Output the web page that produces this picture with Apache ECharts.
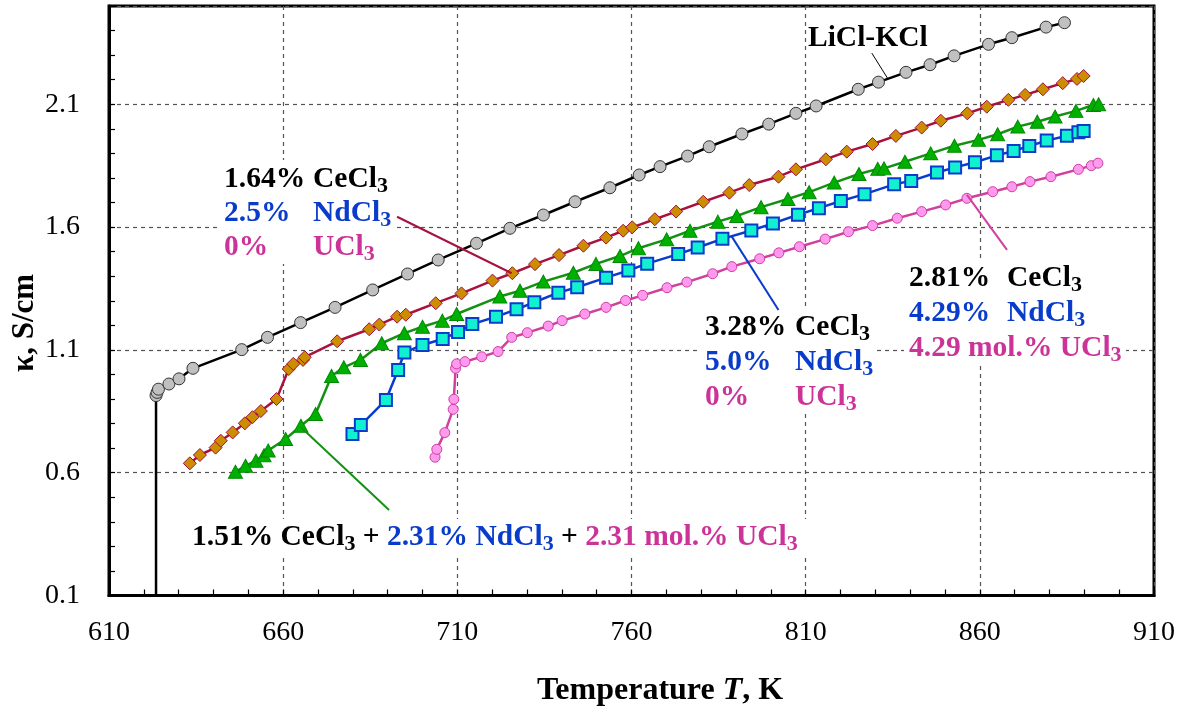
<!DOCTYPE html>
<html>
<head>
<meta charset="utf-8">
<title>Conductivity vs temperature</title>
<script src="https://cdn.jsdelivr.net/npm/echarts@6/dist/echarts.min.js"></script>
<style>
  html, body { margin: 0; padding: 0; background: #fff; }
  #chart { width: 1186px; height: 713px; }
</style>
</head>
<body>
<div id="chart"></div>
<script>
// axis ticks
const xTicks = [610, 660, 710, 760, 810, 860, 910];
const yTicks = [0.1, 0.6, 1.1, 1.6, 2.1];
const yMax = 2.5;
const xMinorStep = 10;
const yMinorStep = 0.1;

// LiCl-KCl (first point is the vertical drop to the axis, drawn without a marker)
const liclKcl = [
  { value: [623.5, 0.1], symbol: 'none' },
  [623.5, 0.914], [623.8, 0.927], [624.2, 0.940], [627.2, 0.961], [630.1, 0.982],
  [634.1, 1.025], [648.1, 1.101], [655.5, 1.151], [665.0, 1.211], [674.9, 1.273], [685.7, 1.344],
  [695.7, 1.409], [704.5, 1.466], [715.5, 1.534], [725.1, 1.595], [734.7, 1.649], [743.8, 1.703],
  [753.8, 1.760], [762.2, 1.812], [768.2, 1.846], [776.1, 1.889], [782.3, 1.927], [791.7, 1.979],
  [799.4, 2.019], [807.2, 2.063], [813.0, 2.093], [825.1, 2.161], [830.9, 2.190], [838.8, 2.230],
  [845.7, 2.261], [852.6, 2.297], [862.5, 2.344], [869.2, 2.371], [879.0, 2.414], [884.3, 2.432]
];

// 1.64% CeCl3 + 2.5% NdCl3
const ceNd1 = [
  [633.2, 0.638], [636.1, 0.672], [640.6, 0.702], [642.1, 0.730], [645.5, 0.764], [649.0, 0.801],
  [651.2, 0.826], [653.6, 0.851], [658.1, 0.900], [661.6, 1.022], [662.9, 1.043], [665.7, 1.059],
  [666.2, 1.070], [675.5, 1.135], [684.7, 1.184], [687.6, 1.203], [692.7, 1.235], [695.2, 1.243],
  [703.8, 1.290], [711.2, 1.330], [720.1, 1.382], [725.8, 1.412], [732.3, 1.449], [739.2, 1.486],
  [746.2, 1.524], [752.7, 1.557], [757.6, 1.585], [760.2, 1.599], [766.7, 1.632], [772.8, 1.663],
  [780.6, 1.703], [788.1, 1.740], [793.8, 1.771], [802.2, 1.805], [807.2, 1.835], [815.8, 1.876],
  [821.8, 1.907], [829.2, 1.938], [835.9, 1.971], [843.3, 2.005], [848.8, 2.033], [856.4, 2.063],
  [862.0, 2.090], [868.2, 2.118], [873.0, 2.138], [878.1, 2.161], [883.8, 2.186], [887.9, 2.203],
  [889.8, 2.215]
];

// 1.51% CeCl3 + 2.31% NdCl3 + 2.31% UCl3
const ceNdU = [
  [646.3, 0.604], [649.2, 0.628], [652.2, 0.649], [654.5, 0.671], [655.7, 0.690], [660.7, 0.737],
  [665.1, 0.791], [669.3, 0.839], [673.9, 0.994], [677.4, 1.029], [682.2, 1.059], [688.3, 1.127],
  [694.8, 1.168], [700.0, 1.194], [705.7, 1.219], [709.8, 1.246], [722.2, 1.317], [728.0, 1.341],
  [734.7, 1.378], [743.3, 1.414], [749.8, 1.450], [756.7, 1.482], [762.0, 1.514], [770.1, 1.550],
  [776.8, 1.585], [784.8, 1.622], [790.2, 1.645], [797.2, 1.681], [804.9, 1.714], [811.0, 1.742],
  [818.2, 1.781], [825.3, 1.816], [830.7, 1.837], [832.5, 1.839], [838.5, 1.866], [845.9, 1.900],
  [852.7, 1.931], [859.6, 1.955], [865.1, 1.978], [870.9, 2.009], [876.5, 2.029], [881.6, 2.050],
  [887.6, 2.073], [892.6, 2.097], [894.1, 2.100]
];

// 3.28% CeCl3 + 5.0% NdCl3
const ceNd2 = [
  [679.9, 0.758], [682.3, 0.794], [689.5, 0.896], [693.0, 1.018], [694.8, 1.089], [700.0, 1.120],
  [705.8, 1.144], [710.2, 1.173], [714.3, 1.205], [721.1, 1.235], [727.0, 1.265], [732.1, 1.294],
  [739.0, 1.333], [744.4, 1.355], [752.7, 1.394], [759.1, 1.423], [764.5, 1.451], [773.4, 1.490],
  [779.0, 1.517], [786.1, 1.552], [794.4, 1.586], [800.6, 1.615], [807.8, 1.650], [813.8, 1.677],
  [820.1, 1.706], [826.9, 1.734], [835.4, 1.774], [840.3, 1.788], [847.7, 1.822], [852.9, 1.843],
  [858.6, 1.864], [864.9, 1.892], [869.7, 1.910], [874.2, 1.930], [879.2, 1.952], [885.0, 1.972],
  [888.3, 1.986], [889.8, 1.991]
];

// 2.81% CeCl3 + 4.29% NdCl3 + 4.29% UCl3
const ceNdU2 = [
  [703.6, 0.663], [704.1, 0.695], [706.4, 0.763], [708.8, 0.858], [709.0, 0.899], [709.5, 1.025],
  [709.8, 1.043], [712.2, 1.052], [717.0, 1.072], [721.7, 1.093], [725.6, 1.151], [730.1, 1.170],
  [736.1, 1.197], [740.1, 1.219], [746.6, 1.246], [752.7, 1.273], [758.3, 1.301], [763.2, 1.322],
  [770.2, 1.353], [775.9, 1.376], [783.3, 1.410], [788.8, 1.439], [796.8, 1.471], [802.3, 1.495],
  [808.2, 1.520], [815.6, 1.551], [822.3, 1.581], [829.2, 1.606], [836.3, 1.636], [843.3, 1.663],
  [850.2, 1.690], [856.3, 1.717], [863.7, 1.744], [869.2, 1.764], [874.4, 1.785], [880.4, 1.805],
  [888.3, 1.835], [892.0, 1.850], [893.9, 1.860]
];

// leader lines from the labels to the curves, [from, to] in data units
const leaderLicl = [[829.0, 2.308], [833.5, 2.206]];
const leaderCeNd1 = [[692.7, 1.642], [725.6, 1.412]];
const leaderCeNdU = [[665.1, 0.785], [690.4, 0.448]];
const leaderCeNd2 = [[788.8, 1.561], [802.2, 1.262]];
const leaderCeNdU2 = [[856.3, 1.731], [867.8, 1.507]];

const FONT = '"Liberation Serif", "Times New Roman", serif';
const BLACK = '#000000';
const BLUE = '#0a3ccc';
const PINK = '#cc3399';
const FS = 29.5;   // label font size
const SUB = 22;    // subscript font size

const chart = echarts.init(document.getElementById('chart'));

function leader(pts, color, width) {
  return {
    silent: true,
    animation: false,
    symbol: ['none', 'none'],
    label: { show: false },
    lineStyle: { color: color, width: width, type: 'solid' },
    emphasis: { disabled: true },
    data: [[{ coord: pts[0] }, { coord: pts[1] }]]
  };
}

function series(name, data, s) {
  return {
    name: name,
    type: 'line',
    data: data,
    symbol: s.symbol,
    symbolSize: s.size,
    lineStyle: { color: s.line, width: 2.5 },
    itemStyle: { color: s.fill, borderColor: s.border, borderWidth: s.bw },
    emphasis: { disabled: true },
    markLine: leader(s.leader, s.leaderColor, s.leaderWidth),
    z: 3
  };
}

// rich text pieces for graphic text: b = bold, s = subscript
function bold(color) {
  return { fontFamily: FONT, fontWeight: 'bold', fontSize: FS, fill: color };
}
function sub(color) {
  return { fontFamily: FONT, fontWeight: 'bold', fontSize: SUB, fill: color, padding: [14, 0, 0, 0] };
}

function label(x, y, text, color) {
  return {
    type: 'text', x: x, y: y, z: 10,
    style: { text: text, rich: { b: bold(color), s: sub(color) }, verticalAlign: 'middle', align: 'left' }
  };
}

function whiteBox(x, y, w, h) {
  return { type: 'rect', z: 1, shape: { x: x, y: y, width: w, height: h }, style: { fill: '#fff' } };
}

const tickLine = { color: '#000', width: 1.2 };
const gridLine = { color: '#555', width: 1.2, type: [4, 4] };

// small inside ticks come from a second, label-less axis on each side
function tickAxis(min, max, step, pos) {
  return {
    type: 'value', position: pos, min: min, max: max, interval: step,
    axisLine: { show: false }, axisLabel: { show: false }, splitLine: { show: false },
    axisTick: { show: true, inside: true, length: 6, lineStyle: tickLine }
  };
}

const option = {
  animation: false,
  backgroundColor: '#fff',
  grid: {
    left: 109, right: 32, top: 6, bottom: 117.5,
    show: true, borderColor: '#000', borderWidth: 3, backgroundColor: 'transparent'
  },
  xAxis: [
    {
      type: 'value', position: 'bottom',
      min: xTicks[0], max: xTicks[xTicks.length - 1], interval: xTicks[1] - xTicks[0],
      axisLine: { show: true, lineStyle: { color: '#000', width: 3 } },
      axisTick: { show: false },
      splitLine: { show: true, lineStyle: gridLine },
      axisLabel: { fontFamily: FONT, fontSize: 28, color: '#000', margin: 23 }
    },
    tickAxis(xTicks[0], xTicks[xTicks.length - 1], xMinorStep, 'bottom')
  ],
  yAxis: [
    {
      type: 'value', position: 'left',
      min: yTicks[0], max: yMax, interval: yTicks[1] - yTicks[0],
      axisLine: { show: true, lineStyle: { color: '#000', width: 3 } },
      axisTick: { show: false },
      splitLine: { show: true, lineStyle: gridLine },
      axisLabel: {
        fontFamily: FONT, fontSize: 28, color: '#000', margin: 29, showMaxLabel: false,
        formatter: v => v.toFixed(1)
      }
    },
    tickAxis(yTicks[0], yMax, yMinorStep, 'left')
  ],
  series: [
    series('LiCl-KCl', liclKcl, {
      symbol: 'circle', size: 12, line: '#000', fill: '#c0c0c0', border: '#333', bw: 1,
      leader: leaderLicl, leaderColor: '#000', leaderWidth: 1
    }),
    series('1.64% CeCl3 + 2.5% NdCl3', ceNd1, {
      symbol: 'diamond', size: 13, line: '#a8123e', fill: '#cc8e00', border: '#a0103c', bw: 1,
      leader: leaderCeNd1, leaderColor: '#a8123e', leaderWidth: 2
    }),
    series('1.51% CeCl3 + 2.31% NdCl3 + 2.31% UCl3', ceNdU, {
      symbol: 'triangle', size: [14, 13], line: '#129112', fill: '#00b000', border: '#008a00', bw: 1,
      leader: leaderCeNdU, leaderColor: '#129112', leaderWidth: 2
    }),
    series('3.28% CeCl3 + 5.0% NdCl3', ceNd2, {
      symbol: 'rect', size: 12, line: '#0a3ccc', fill: '#12f0d2', border: '#0a3ccc', bw: 2,
      leader: leaderCeNd2, leaderColor: '#0a3ccc', leaderWidth: 2
    }),
    series('2.81% CeCl3 + 4.29% NdCl3 + 4.29% UCl3', ceNdU2, {
      symbol: 'circle', size: 10, line: '#d0409e', fill: '#ff99ee', border: '#cc3fa6', bw: 1,
      leader: leaderCeNdU2, leaderColor: '#d0409e', leaderWidth: 2
    })
  ],
  graphic: [
    // axis titles
    {
      type: 'text', x: 660, y: 691, z: 10,
      style: {
        text: '{b|Temperature }{i|T}{b|, K}', align: 'center', verticalAlign: 'middle',
        rich: {
          b: { fontFamily: FONT, fontWeight: 'bold', fontSize: 32, fill: '#000' },
          i: { fontFamily: FONT, fontWeight: 'bold', fontStyle: 'italic', fontSize: 32, fill: '#000' }
        }
      }
    },
    {
      type: 'text', x: 25, y: 323, rotation: Math.PI / 2, z: 10,
      style: {
        text: 'κ, S/cm', align: 'center', verticalAlign: 'middle',
        fontFamily: FONT, fontWeight: 'bold', fontSize: 31, fill: '#000'
      }
    },
    // white patches behind the label blocks
    whiteBox(219, 160, 178, 104),
    whiteBox(700, 308, 176, 106),
    whiteBox(904, 259, 222, 106),
    whiteBox(188, 519, 620, 38),

    label(808, 38, '{b|LiCl-KCl}', BLACK),

    label(224, 179, '{b|1.64%}', BLACK),
    label(313, 179, '{b|CeCl}{s|3}', BLACK),
    label(224, 213, '{b|2.5%}', BLUE),
    label(313, 213, '{b|NdCl}{s|3}', BLUE),
    label(224, 247, '{b|0%}', PINK),
    label(313, 247, '{b|UCl}{s|3}', PINK),

    label(705, 327, '{b|3.28%}', BLACK),
    label(795, 327, '{b|CeCl}{s|3}', BLACK),
    label(705, 362, '{b|5.0%}', BLUE),
    label(795, 362, '{b|NdCl}{s|3}', BLUE),
    label(705, 397, '{b|0%}', PINK),
    label(795, 397, '{b|UCl}{s|3}', PINK),

    label(909, 278, '{b|2.81%}', BLACK),
    label(1007, 278, '{b|CeCl}{s|3}', BLACK),
    label(909, 313, '{b|4.29%}', BLUE),
    label(1007, 313, '{b|NdCl}{s|3}', BLUE),
    label(909, 348, '{b|4.29 mol.% UCl}{s|3}', PINK),

    {
      type: 'text', x: 192, y: 537, z: 10,
      style: {
        text: '{b|1.51% CeCl}{s|3}{b| + }{nb|2.31% NdCl}{ns|3}{b| + }{ub|2.31 mol.% UCl}{us|3}',
        align: 'left', verticalAlign: 'middle',
        rich: { b: bold(BLACK), s: sub(BLACK), nb: bold(BLUE), ns: sub(BLUE), ub: bold(PINK), us: sub(PINK) }
      }
    }
  ]
};

chart.setOption(option);
</script>
</body>
</html>
